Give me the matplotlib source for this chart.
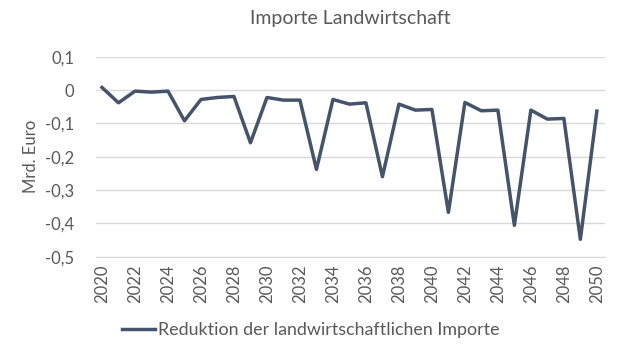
import matplotlib
matplotlib.use("Agg")
import matplotlib.pyplot as plt
from matplotlib.ticker import FuncFormatter

years = list(range(2020, 2051))
values = [0.008, -0.038, -0.003, -0.006, -0.003, -0.092, -0.028, -0.022, -0.019, -0.158,
          -0.022, -0.030, -0.030, -0.238, -0.028, -0.042, -0.038, -0.260, -0.042, -0.060,
          -0.058, -0.367, -0.037, -0.062, -0.060, -0.406, -0.060, -0.087, -0.085, -0.448,
          -0.063]
xticks = list(range(2020, 2051, 2))
yticks = [0.1, 0, -0.1, -0.2, -0.3, -0.4, -0.5]

title = "Importe Landwirtschaft"
ylabel = "Mrd. Euro"
series_name = "Reduktion der landwirtschaftlichen Importe"

plt.rcParams['font.family'] = ['Lato', 'DejaVu Sans']
txt = "#595959"
line_col = "#44546A"

fig = plt.figure(figsize=(6.29, 3.62), dpi=100)
ax = fig.add_axes([0.153, 0.291, 0.809, 0.552])
ax.plot(years, values, color=line_col, linewidth=2.5, solid_joinstyle='round',
        label=series_name)
ax.set_xlim(2019.65, 2050.5)
ax.set_ylim(-0.5, 0.1)
ax.set_yticks(yticks)
ax.set_xticks(xticks)
ax.set_xticklabels([str(x) for x in xticks], rotation=90)

def fmt(v, pos):
    if abs(v) < 1e-9:
        return "0"
    return ("%.1f" % v).replace(".", ",")
ax.yaxis.set_major_formatter(FuncFormatter(fmt))

ax.grid(axis='y', color="#D9D9D9", linewidth=1)
ax.set_axisbelow(True)
for s in ['top', 'right', 'left']:
    ax.spines[s].set_visible(False)
ax.spines['bottom'].set_color("#D9D9D9")
ax.tick_params(axis='both', length=0, colors=txt, labelsize=12)
ax.tick_params(axis='y', pad=16)
ax.tick_params(axis='x', pad=6)
ax.set_ylabel(ylabel, color=txt, fontsize=12, labelpad=4)
fig.text(0.557, 0.95, title, ha='center', va='center', color=txt, fontsize=14)

leg = fig.legend(loc='center', bbox_to_anchor=(0.494, 0.088), frameon=False,
                 fontsize=12.9, handlelength=1.85, handletextpad=0.15)
for t in leg.get_texts():
    t.set_color(txt)

fig.savefig("out.png", dpi=100)
